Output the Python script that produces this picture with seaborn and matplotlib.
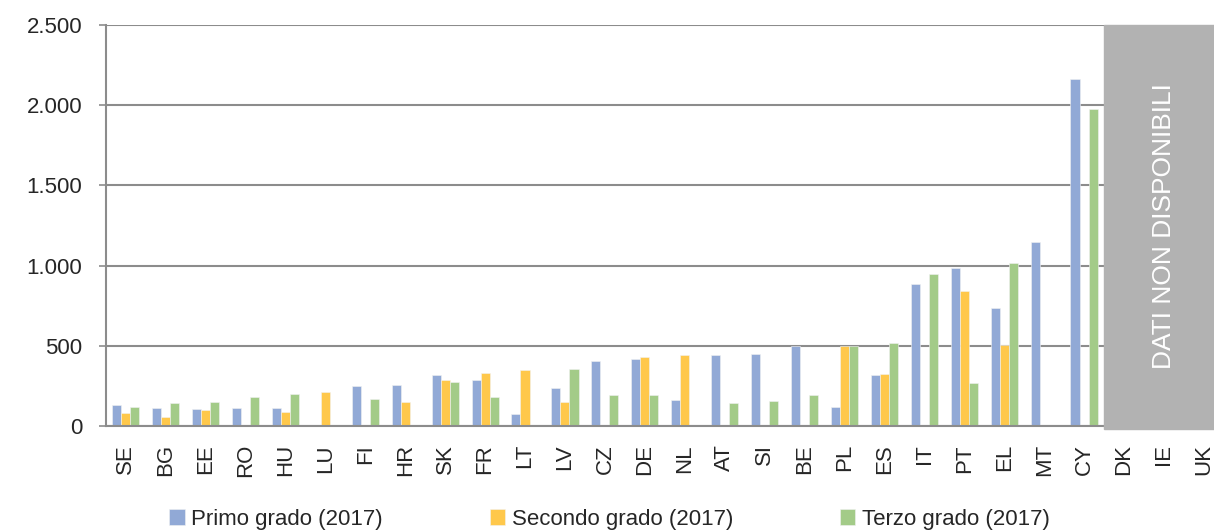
import numpy as np
import pandas as pd
import matplotlib
matplotlib.use("Agg")
import matplotlib.pyplot as plt
import seaborn as sns

nan = np.nan

countries = ["SE", "BG", "EE", "RO", "HU", "LU", "FI", "HR", "SK", "FR", "LT", "LV", "CZ",
             "DE", "NL", "AT", "SI", "BE", "PL", "ES", "IT", "PT", "EL", "MT", "CY",
             "DK", "IE", "UK"]
series = ["Primo grado (2017)", "Secondo grado (2017)", "Terzo grado (2017)"]
primo = [134, 115, 106, 110, 115, nan, 252, 254, 317, 286, 73, 236, 404,
         421, 165, 444, 446, 498, 119, 321, 886, 986, 734, 1147, 2162, nan, nan, nan]
secondo = [79, 59, 98, nan, 88, 211, nan, 150, 290, 331, 348, 148, nan,
           429, 442, nan, nan, nan, 502, 327, nan, 842, 504, nan, nan, nan, nan, nan]
terzo = [119, 142, 148, 181, 198, nan, 167, nan, 273, 181, nan, 356, 196,
         194, nan, 144, 156, 192, 502, 515, 948, 271, 1015, nan, 1976, nan, nan, nan]
missing = ["DK", "IE", "UK"]
yticks = [0, 500, 1000, 1500, 2000, 2500]
colors = ["#91A9D6", "#FFC84B", "#A3CB88"]
grey = "#8C8C8C"

df = pd.DataFrame({"paese": countries * 3,
                   "serie": [s for s in series for _ in countries],
                   "valore": primo + secondo + terzo}).dropna()

sns.set_style("white")
plt.rcParams["font.family"] = ["Liberation Sans", "DejaVu Sans"]

fig = plt.figure(figsize=(12.14, 5.31), dpi=100)
ax = fig.add_axes([0.0871, 0.1977, 0.921, 0.755])

sns.barplot(data=df, x="paese", y="valore", hue="serie", order=countries,
            hue_order=series, palette=colors, saturation=1, width=0.68,
            edgecolor="#F2F2F2", linewidth=0.4, ax=ax)

ax.set_xlim(-0.5, len(countries) - 0.5)
ax.set_ylim(0, 2500)
ax.set_yticks(yticks)
ax.set_yticklabels([f"{v:,}".replace(",", ".") for v in yticks], fontsize=16)
ax.set_xticks(range(len(countries)))
ax.set_xticklabels(countries, rotation=90, fontsize=16)
ax.set_xticks(np.arange(-0.5, len(countries)), minor=True)
ax.tick_params(axis="x", which="major", length=0, pad=13)
ax.tick_params(axis="x", which="minor", length=6, width=1.2, color=grey)
ax.tick_params(axis="y", length=5, width=1.2, color=grey, pad=12, left=True)
ax.set_xlabel("")
ax.set_ylabel("")

ax.set_axisbelow(True)
ax.yaxis.grid(True, color=grey, linewidth=1.5)
for side in ["top", "right"]:
    ax.spines[side].set_visible(False)
for side in ["left", "bottom"]:
    ax.spines[side].set_color(grey)
    ax.spines[side].set_linewidth(1.5)

# area senza dati
i0 = countries.index(missing[0])
ax.axvspan(i0 - 0.5, len(countries) - 0.5, ymin=-0.008, ymax=1,
           color="#B2B2B2", zorder=3, clip_on=False)
ax.text((i0 + len(countries) - 1) / 2, 1250, "DATI NON DISPONIBILI", rotation=90,
        color="white", fontsize=19, ha="center", va="center", zorder=4)

handles, labels = ax.get_legend_handles_labels()
ax.get_legend().remove()
fig.legend(handles, labels, loc="center", bbox_to_anchor=(0.502, 0.022), ncol=3,
           frameon=False, fontsize=16, handlelength=0.7, handleheight=0.7,
           handletextpad=0.3, columnspacing=4.8)

plt.savefig("out.png", dpi=100)
plt.close()
